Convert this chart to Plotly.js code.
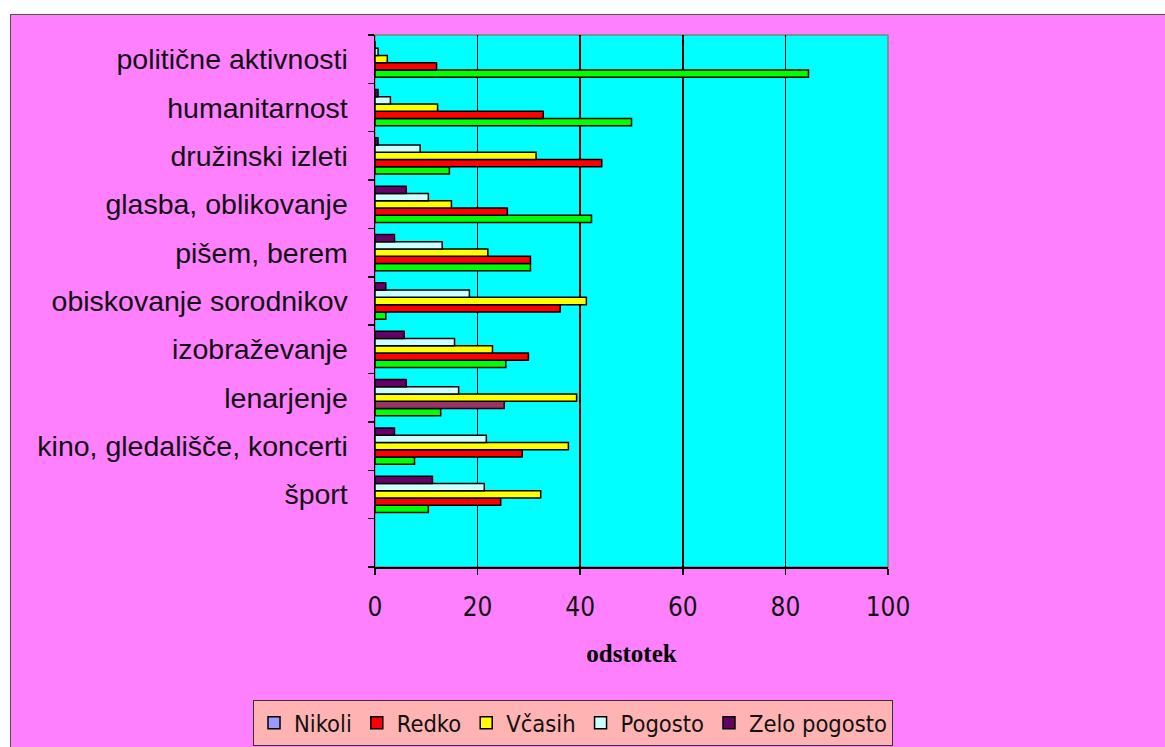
<!DOCTYPE html>
<html>
<head>
<meta charset="utf-8">
<script src="https://cdn.plot.ly/plotly-3.0.1.min.js"></script>
<style>
  html, body { margin:0; padding:0; background:#ffffff; overflow:hidden; width:1165px; height:747px; }
  #frame { position:absolute; left:10px; top:14px; width:1170px; height:745px; background:#FF80FF; border:1px solid #555555; overflow:hidden; }
  #chart { position:absolute; left:0; top:0; width:1155px; height:740px; }
</style>
</head>
<body>
<div id="frame"><div id="chart"></div></div>
<script>
// Categories listed top to bottom as in the picture; last one is the empty slot
const categories = ['politične aktivnosti', 'humanitarnost', 'družinski izleti', 'glasba, oblikovanje',
  'pišem, berem', 'obiskovanje sorodnikov', 'izobraževanje', 'lenarjenje',
  'kino, gledališče, koncerti', 'šport', '\u00a0'];
const seriesNames = ['Nikoli', 'Redko', 'Včasih', 'Pogosto', 'Zelo pogosto'];
const nikoli      = [84.5, 50.0, 14.5, 42.2, 30.3,  2.1, 25.5, 12.8,  7.7, 10.4, null];
const redko       = [12.0, 32.8, 44.2, 25.8, 30.3, 36.1, 29.9, 25.2, 28.7, 24.5, null];
const vcasih      = [ 2.4, 12.2, 31.4, 14.9, 22.0, 41.2, 22.9, 39.3, 37.7, 32.3, null];
const pogosto     = [ 0.6,  3.0,  8.8, 10.4, 13.1, 18.4, 15.5, 16.3, 21.7, 21.3, null];
const zeloPogosto = [ 0.0,  0.6,  0.6,  6.1,  3.8,  2.1,  5.7,  6.1,  3.8, 11.2, null];
const xTicks = [0, 20, 40, 60, 80, 100];

// plot bottom-to-top so the first series sits lowest in each group
const yCats = categories.slice().reverse();
const rev = a => a.slice().reverse();

const lineStyle = {color: '#000000', width: 1.5};
const nikoliColors = yCats.map(c => c === '\u00a0' ? '#9999FF' : '#00FF00');
const redkoColors = yCats.map(c => c === 'lenarjenje' ? '#993366' : '#FF0000');

const seriesValues = [nikoli, redko, vcasih, pogosto, zeloPogosto];
const seriesColors = [nikoliColors, redkoColors, '#FFFF00', '#CCFFFF', '#660066'];

const traces = seriesNames.map((name, i) => ({
  type: 'bar', orientation: 'h', name: name,
  y: yCats, x: rev(seriesValues[i]),
  marker: {color: seriesColors[i], line: lineStyle},
  hoverinfo: 'skip'
}));

const condensed = '"Liberation Sans Narrow", "Arial Narrow", "DejaVu Sans Condensed", sans-serif';

const layout = {
  width: 1155, height: 740,
  paper_bgcolor: '#FF80FF', plot_bgcolor: '#00FFFF',
  margin: {l: 364, r: 278, t: 20, b: 188, autoexpand: false},
  barmode: 'group', bargap: 0.25, bargroupgap: 0,
  showlegend: true,
  font: {family: 'Arial, "Liberation Sans", sans-serif', color: '#000000'},
  xaxis: {
    range: [0, 100], tickvals: xTicks, ticktext: xTicks.map(String),
    showgrid: true, gridcolor: '#000000', gridwidth: 1.5, zeroline: false,
    showline: true, linecolor: '#000000', linewidth: 1.5,
    ticks: 'outside', ticklen: 6, tickwidth: 1.5, tickcolor: '#000000',
    ticklabelstandoff: 10,
    tickfont: {family: condensed, size: 26, color: '#111111'},
    title: {text: 'odstotek', standoff: 24,
      font: {family: '"Liberation Serif", "Times New Roman", serif', size: 25, color: '#000000', weight: 'bold'}},
    fixedrange: true
  },
  yaxis: {
    type: 'category', categoryorder: 'array', categoryarray: yCats,
    range: [-0.5, yCats.length - 0.5],
    showgrid: false, zeroline: false,
    showline: true, linecolor: '#000000', linewidth: 1.5,
    ticks: 'outside', tickson: 'boundaries', ticklen: 6, tickwidth: 1.5, tickcolor: '#000000',
    ticklabelstandoff: 20,
    tickfont: {family: 'Arial, "Liberation Sans", sans-serif', size: 28.5, color: '#111111'},
    fixedrange: true
  },
  legend: {
    orientation: 'h', x: -0.2378, xanchor: 'left', y: -0.25, yanchor: 'top',
    bgcolor: '#FFB3B3', bordercolor: '#333333', borderwidth: 1,
    itemwidth: 30, traceorder: 'normal',
    font: {family: condensed, size: 23.5, color: '#111111'}
  },
  shapes: [{type: 'rect', xref: 'paper', yref: 'paper', x0: 0, x1: 1, y0: 0, y1: 1,
    line: {color: '#808080', width: 1.5}, layer: 'below'}]
};

Plotly.newPlot('chart', traces, layout, {displayModeBar: false, staticPlot: true});
</script>
</body>
</html>
